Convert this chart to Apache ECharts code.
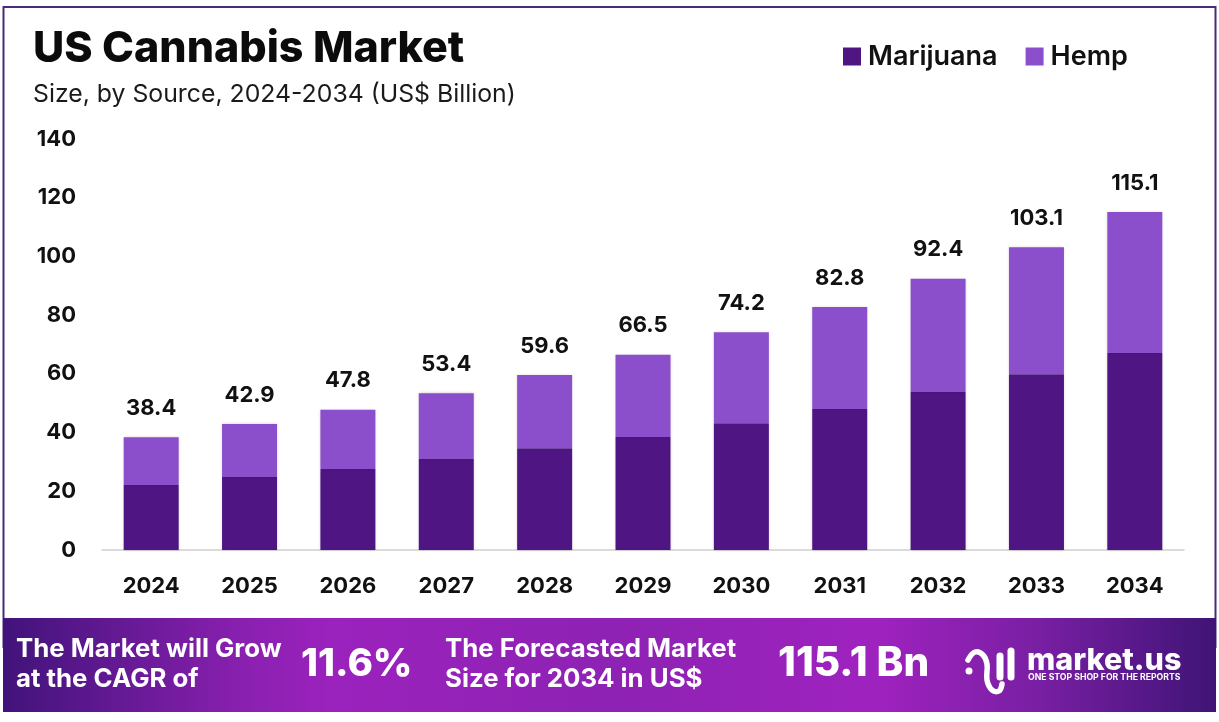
<!DOCTYPE html>
<html><head><meta charset="utf-8">
<style>html,body{margin:0;padding:0;background:#fff}#c{width:1219px;height:722px}</style>
<script src="https://cdn.jsdelivr.net/npm/echarts@6/dist/echarts.min.js"></script>
</head><body><div id="c"></div>
<script>
const categories = ['2024','2025','2026','2027','2028','2029','2030','2031','2032','2033','2034'];
const marijuana = [22.1,24.9,27.6,31.0,34.7,38.5,43.2,48.0,53.8,59.9,67.1];
const hemp = [16.3,18.0,20.2,22.4,24.9,28.0,31.0,34.8,38.6,43.2,48.0];
const totals = ['38.4','42.9','47.8','53.4','59.6','66.5','74.2','82.8','92.4','103.1','115.1'];
const yTicks = {min:0,max:140,interval:20};
const FONT = 'Inter';
const chart = echarts.init(document.getElementById('c'),null,{renderer:'canvas'});
const bannerText = (x,y,text,size,shadow) => ({type:'text',x,y,z:10,style:{text,fill:'#fff',font:`${shadow?800:700} ${size}px ${FONT}`,
  shadowColor:shadow?'rgba(30,0,60,0.6)':'transparent',shadowBlur:shadow?5:0,shadowOffsetX:shadow?2:0,shadowOffsetY:shadow?3:0,textVerticalAlign:'middle'}});
const logoLine = (shape,w,smooth) => ({type:'polyline',z:10,shape:{points:shape,smooth:smooth||0},style:{stroke:'#fff',lineWidth:w,fill:null,lineCap:'round',lineJoin:'round'}});
chart.setOption({
  animation:false,
  backgroundColor:'#fff',
  title:[
    {text:'US Cannabis Market',left:28,top:23,textStyle:{fontFamily:FONT,fontWeight:800,fontSize:43,color:'#0b0b0b'}},
    {text:'Size, by Source, 2024-2034 (US$ Billion)',left:28,top:77,textStyle:{fontFamily:FONT,fontWeight:400,fontSize:24.8,color:'#1a1a1a'}}
  ],
  legend:{left:838,top:38,itemWidth:18,itemHeight:18,itemGap:28,icon:'rect',
    data:['Marijuana','Hemp'],textStyle:{fontFamily:FONT,fontWeight:600,fontSize:27,color:'#111',padding:[0,0,0,2]}},
  grid:{left:102,right:35,top:139,bottom:172},
  xAxis:{type:'category',data:categories,
    axisLine:{lineStyle:{color:'#cfcfcf',width:1.5}},axisTick:{show:false},
    axisLabel:{margin:25,fontFamily:FONT,fontWeight:700,fontSize:22,color:'#111'}},
  yAxis:{type:'value',min:yTicks.min,max:yTicks.max,interval:yTicks.interval,
    splitLine:{show:false},axisLine:{show:false},axisTick:{show:false},
    axisLabel:{margin:26,padding:[0,0,2,0],fontFamily:FONT,fontWeight:700,fontSize:22,color:'#111'}},
  series:[
    {name:'Marijuana',type:'bar',stack:'s',barWidth:55,data:marijuana,
      itemStyle:{color:'#4f1683',shadowColor:'rgba(0,0,0,0.2)',shadowBlur:3}},
    {name:'Hemp',type:'bar',stack:'s',barWidth:55,data:hemp,
      itemStyle:{color:'#8b4fcb',shadowColor:'rgba(0,0,0,0.2)',shadowBlur:3},
      label:{show:true,position:'top',distance:18,fontFamily:FONT,fontWeight:700,fontSize:22,color:'#111',
        formatter:p=>totals[p.dataIndex]}}
  ],
  graphic:[
    {type:'rect',z:-1,shape:{x:3.5,y:7,width:1212,height:640},style:{fill:'#fff',stroke:'#4b2a7b',lineWidth:2}},
    {type:'rect',z:5,shape:{x:3,y:618,width:1213,height:94},style:{fill:new echarts.graphic.LinearGradient(0,0,1,0,[
      {offset:0,color:'#41137a'},{offset:0.2,color:'#8a20b0'},{offset:0.27,color:'#9b22bd'},{offset:0.5,color:'#8e22b4'},
      {offset:0.72,color:'#9f22bf'},{offset:0.85,color:'#7a1fa4'},{offset:1,color:'#3f1476'}])}},
    {type:'rect',z:6,shape:{x:0,y:712,width:1219,height:10},style:{fill:'#fff'}},
    bannerText(16,649,'The Market will Grow',25.8),
    bannerText(16,679,'at the CAGR of',25.8),
    bannerText(301,664,'11.6%',38.5,true),
    bannerText(445,649,'The Forecasted Market',25.8),
    bannerText(445,679,'Size for 2034 in US$',25.8),
    bannerText(778,664,'115.1 Bn',40.5,true),
    {type:'circle',z:10,shape:{cx:969,cy:671,r:3.5},style:{fill:'#fff'}},
    logoLine([[968,660],[975,652],[983,655],[987,664],[987,680],[992,690],[999,691],[1002,684]],5.5,0.4),
    logoLine([[1000,656],[1000,677]],7),
    logoLine([[1011,651],[1011,677]],7),
    {type:'text',x:1027,y:661,z:10,style:{text:'market.us',fill:'#fff',font:`800 30.5px ${FONT}`,textVerticalAlign:'middle'}},
    {type:'text',x:1028,y:677,z:10,style:{text:'ONE STOP SHOP FOR THE REPORTS',fill:'#fff',font:`700 8.7px ${FONT}`,textVerticalAlign:'middle'}}
  ]
});
</script></body></html>
